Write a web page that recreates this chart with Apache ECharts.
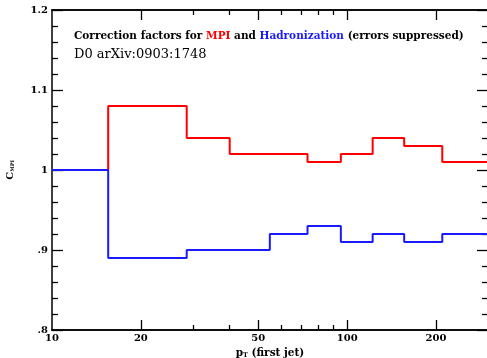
<!DOCTYPE html>
<html lang="en">
	<head>
		<meta charset="UTF-8" />
		<title>Correction factors</title>
		<script src="https://cdn.jsdelivr.net/npm/echarts@6/dist/echarts.min.js"></script>
		<style>
			* {
				margin: 0;
				padding: 0;
			}
			html,
			body {
				height: 100%;
				background: #fff;
			}
		</style>
	</head>
	<body>
		<div id="main" style="width:487px;height:358px;"></div>

		<script type="text/javascript">
			// bin edges (pT of first jet) and correction factors
			var mpiEdges = [10, 15.5, 28.6, 40, 73.4, 95.2, 122, 156, 210, 300];
			var mpiValues = [1.0, 1.08, 1.04, 1.02, 1.01, 1.02, 1.04, 1.03, 1.01];
			var hadEdges = [10, 15.5, 28.6, 54.7, 73.4, 95.2, 122, 156, 210, 300];
			var hadValues = [1.0, 0.89, 0.9, 0.92, 0.93, 0.91, 0.92, 0.91, 0.92];
			// tick labels
			var xLabels = [10, 20, 50, 100, 200];
			var xMajorTicks = [20, 50, 100, 200];
			var xMinorTicks = [30, 40, 60, 70, 80, 90, 300];

			var font = "DejaVu Serif";

			// step points: each bin starts at its edge, last edge closes the line
			function steps(edges, values) {
				var pts = [];
				for (var i = 0; i < values.length; i++) {
					pts.push([edges[i], values[i]]);
				}
				pts.push([edges[edges.length - 1], values[values.length - 1]]);
				return pts;
			}

			function xAxisOf(pos, ticks, len, labels) {
				return {
					type: "log",
					position: pos,
					min: 10,
					max: 300,
					axisLine: { show: true, lineStyle: { color: "#000", width: 1.5 } },
					axisTick: {
						show: true,
						inside: true,
						length: len,
						customValues: ticks,
						lineStyle: { color: "#000", width: 1.3 }
					},
					axisLabel: labels
						? {
								show: true,
								customValues: labels,
								color: "#000",
								fontFamily: font,
								fontWeight: "bold",
								fontSize: 10,
								margin: 3
						  }
						: { show: false },
					splitLine: { show: false },
					minorTick: { show: false }
				};
			}

			function yAxisOf(pos, labels) {
				return {
					type: "value",
					position: pos,
					min: 0.8,
					max: 1.2,
					interval: 0.1,
					axisLine: { show: true, lineStyle: { color: "#000", width: 1.5 } },
					axisTick: { show: true, inside: true, length: 11, lineStyle: { color: "#000", width: 1.3 } },
					minorTick: { show: true, splitNumber: 5, length: 6, lineStyle: { color: "#000", width: 1.3 } },
					axisLabel: labels
						? {
								show: true,
								color: "#000",
								fontFamily: font,
								fontWeight: "bold",
								fontSize: 10,
								margin: 4,
								formatter: function (v) {
									var s = String(Math.round(v * 10) / 10);
									return s.charAt(0) === "0" ? s.slice(1) : s;
								}
						  }
						: { show: false },
					splitLine: { show: false },
					nameLocation: "middle"
				};
			}

			var yLeft = yAxisOf("left", true);
			yLeft.name = "{c|C}{s|MPI}";
			yLeft.nameGap = 37;
			yLeft.nameRotate = 90;
			yLeft.nameTextStyle = {
				rich: {
					c: { fontFamily: font, fontWeight: "bold", fontSize: 10, color: "#000" },
					s: { fontFamily: font, fontWeight: "bold", fontSize: 5, color: "#000", verticalAlign: "bottom" }
				}
			};

			var xBottom = xAxisOf("bottom", xMajorTicks, 10, xLabels);
			xBottom.name = "{p|p}{s|T}{p| (first jet)}";
			xBottom.nameLocation = "middle";
			xBottom.nameGap = 17;
			xBottom.nameTextStyle = {
				rich: {
					p: { fontFamily: font, fontWeight: "bold", fontSize: 10.5, color: "#000" },
					s: { fontFamily: font, fontWeight: "bold", fontSize: 6.5, color: "#000", verticalAlign: "bottom" }
				}
			};

			var option = {
				animation: false,
				backgroundColor: "#fff",
				grid: { left: 52, right: -1, top: 10, bottom: 28, outerBoundsMode: "none" },
				title: [
					{
						left: 74,
						top: 31,
						padding: 0,
						text: "{a|Correction factors for }{r|MPI}{a| and }{b|Hadronization}{a| (errors suppressed)}",
						textStyle: {
							rich: {
								a: { fontFamily: font, fontWeight: "bold", fontSize: 10.5, color: "#000" },
								r: { fontFamily: font, fontWeight: "bold", fontSize: 10.5, color: "#ff0000" },
								b: { fontFamily: font, fontWeight: "bold", fontSize: 10.5, color: "#1a1aff" }
							}
						}
					},
					{
						left: 74,
						top: 48,
						padding: 0,
						text: "D0 arXiv:0903:1748",
						textStyle: { fontFamily: font, fontWeight: "normal", fontSize: 13, color: "#000" }
					}
				],
				xAxis: [
					xBottom,
					xAxisOf("bottom", xMinorTicks, 5, null),
					xAxisOf("top", xMajorTicks, 10, null),
					xAxisOf("top", xMinorTicks, 5, null)
				],
				yAxis: [yLeft, yAxisOf("right", false)],
				series: [
					{
						name: "MPI",
						type: "line",
						step: "end",
						symbol: "none",
						xAxisIndex: 0,
						yAxisIndex: 0,
						lineStyle: { color: "#ff0000", width: 2 },
						data: steps(mpiEdges, mpiValues)
					},
					{
						name: "Hadronization",
						type: "line",
						step: "end",
						symbol: "none",
						xAxisIndex: 0,
						yAxisIndex: 0,
						lineStyle: { color: "#1a1aff", width: 2 },
						data: steps(hadEdges, hadValues)
					}
				]
			};

			var myChart = echarts.init(document.getElementById("main"));
			myChart.setOption(option);
		</script>
	</body>
</html>
